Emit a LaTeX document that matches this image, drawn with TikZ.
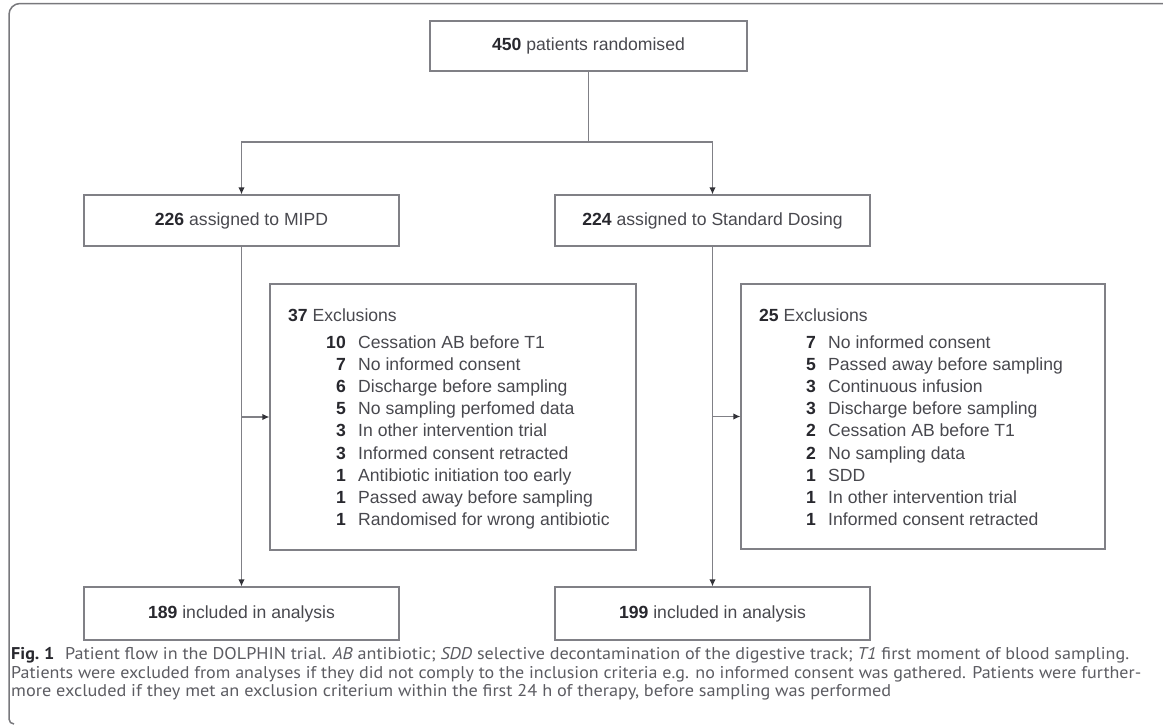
\documentclass[tikz,border=0pt]{standalone}
\usepackage{fontspec}
\setmainfont{Liberation Sans}
\newfontfamily\capfont{PT Sans}
\usepackage{graphicx}
\usetikzlibrary{arrows.meta}
\definecolor{linec}{RGB}{128,128,134}
\definecolor{framec}{RGB}{120,120,124}
\definecolor{txtc}{RGB}{72,72,78}
\definecolor{numc}{RGB}{40,40,46}
\definecolor{capc}{RGB}{92,92,98}
\definecolor{tipc}{RGB}{50,50,56}
\newcommand\bnum[1]{{\color{numc}\bfseries #1}}
\begin{document}
\begin{tikzpicture}[x=1pt,y=-1pt,
  box/.style={draw=linec, line width=1.3pt, inner sep=0pt, text=txtc,
    font=\fontsize{17.6}{21}\selectfont, text height=12.6pt, text depth=3.6pt},
  exbox/.style={draw=linec, line width=1.3pt, inner sep=0pt},
  item/.style={inner sep=0pt, text=txtc, font=\fontsize{17.6}{21}\selectfont, anchor=base west},
  conn/.style={draw=linec, line width=1.3pt},
  arr/.style={conn, -{Latex[length=7pt,width=6.5pt,fill=tipc,color=tipc]}},
  capline/.style={inner sep=0pt, text=capc, font=\capfont\fontsize{17}{20}\selectfont, anchor=base west}
]
\useasboundingbox (0,0) rectangle (1163,726);
% outer frame
\draw[framec, line width=1.5pt] (14,724) [rounded corners=5pt] -- (9,724) [rounded corners=11pt] -- (9,3.5) -- (1200,3.5);

% boxes
\node[box, minimum width=317pt, minimum height=50pt] (t) at (588.5,46) {\bnum{450} patients randomised};
\node[box, minimum width=315pt, minimum height=51pt] (a) at (241.5,220.5) {\bnum{226} assigned to MIPD};
\node[box, minimum width=315pt, minimum height=51pt] (b) at (712.5,220.5) {\bnum{224} assigned to Standard Dosing};
\node[exbox, minimum width=366pt, minimum height=266pt] (ex1) at (453,417) {};
\node[exbox, minimum width=364pt, minimum height=265pt] (ex2) at (923,416.5) {};
\node[box, minimum width=315pt, minimum height=53pt] (c) at (241.5,613.5) {\bnum{189} included in analysis};
\node[box, minimum width=315pt, minimum height=53pt] (d) at (712.5,613.5) {\bnum{199} included in analysis};

% exclusion lists
\node[item] (ha) at (288,321.3) {\bnum{37} Exclusions};
\foreach \n/\t [count=\i] in {10/Cessation AB before T1, 7/No informed consent, 6/Discharge before sampling, 5/No sampling perfomed data, 3/In other intervention trial, 3/Informed consent retracted, 1/Antibiotic initiation too early, 1/Passed away before sampling, 1/Randomised for wrong antibiotic}
  \node[item] (la\i) at (358, {348.3+(\i-1)*22.15}) {\makebox[0pt][r]{\bnum{\n}\hspace{12.4pt}}\t};
\node[item] (hb) at (759,321.3) {\bnum{25} Exclusions};
\foreach \n/\t [count=\i] in {7/No informed consent, 5/Passed away before sampling, 3/Continuous infusion, 3/Discharge before sampling, 2/Cessation AB before T1, 2/No sampling data, 1/SDD, 1/In other intervention trial, 1/Informed consent retracted}
  \node[item] (lb\i) at (828, {348.3+(\i-1)*22.15}) {\makebox[0pt][r]{\bnum{\n}\hspace{12.4pt}}\t};

% connectors
\coordinate (j) at (588.5,142);
\draw[conn] (t.south) -- (j);
\draw[arr] (j) -| (a.north);
\draw[arr] (j) -| (b.north);
\draw[arr] (a.south) -- (c.north);
\draw[arr] (b.south) -- (d.north);
\draw[arr] (a.south |- ex1.west) -- (ex1.west);
\draw[arr] (b.south |- ex2.west) -- (ex2.west);

% caption
\node[capline] (cap1) at (11,659.5) {\resizebox{1118pt}{\height}{{\color{numc}\bfseries Fig.~1}\hspace{0.6em}Patient flow in the DOLPHIN trial. \textit{AB} antibiotic; \textit{SDD} selective decontamination of the digestive track; \textit{T1} first moment of blood sampling.}};
\node[capline] (cap2) at (11,678) {\resizebox{1130pt}{\height}{Patients were excluded from analyses if they did not comply to the inclusion criteria e.g. no informed consent was gathered. Patients were further-}};
\node[capline] (cap3) at (11,696.5) {\resizebox{880pt}{\height}{more excluded if they met an exclusion criterium within the first 24 h of therapy, before sampling was performed}};
\end{tikzpicture}
\end{document}
